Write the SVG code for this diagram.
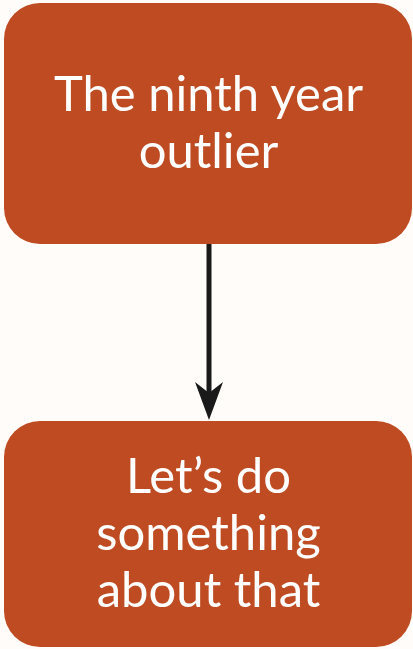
<svg xmlns="http://www.w3.org/2000/svg" width="413" height="649" viewBox="0 0 413 649">
<style>
.box{fill:#BE4B22}
.lbl{fill:#FFFFFF;font-family:Lato,"Open Sans",sans-serif;font-size:49px;text-anchor:middle}
.edge{stroke:#1A1A1A;stroke-width:5;fill:none}
</style>
<defs>
<marker id="ah" markerUnits="userSpaceOnUse" markerWidth="40" markerHeight="30" refX="18" refY="14" orient="auto" viewBox="0 0 40 28">
<path d="M38,14 L0,0 L11,14 L0,28 Z" fill="#1A1A1A"/>
</marker>
</defs>
<rect width="413" height="649" fill="#FFFCF9"/>
<g id="connectors">
<path class="edge" d="M209,244 L209,400" marker-end="url(#ah)"/>
</g>
<g id="node1">
<rect class="box" x="4" y="3" width="408" height="241" rx="36"/>
<text class="lbl" x="208.5" y="111">The ninth year</text>
<text class="lbl" x="208.5" y="168">outlier</text>
</g>
<g id="node2">
<rect class="box" x="4" y="421" width="408" height="226" rx="36"/>
<text class="lbl" x="208.5" y="493">Let’s do</text>
<text class="lbl" x="208.5" y="550">something</text>
<text class="lbl" x="208.5" y="607">about that</text>
</g>
</svg>
